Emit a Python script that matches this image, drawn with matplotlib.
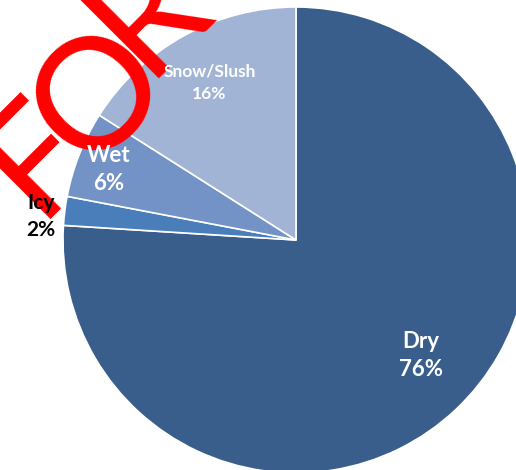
import numpy as np
import matplotlib
matplotlib.use('Agg')
import matplotlib.pyplot as plt

# road surface condition shares (clockwise from 12 o'clock)
conditions = ['Dry', 'Icy', 'Wet', 'Snow/Slush']
shares = [76, 2, 6, 16]
colors = ['#3A5E8C', '#4A7EBB', '#7393C6', '#A2B4D5']
label_colors = ['white', 'black', 'white', 'white']
label_sizes = [16, 15, 16, 12.5]
label_dist = [0.73, 1.10, 0.86, 0.77]
label_shift = [4, 2, 1, 0]   # degrees

W, H = 516, 470
fig = plt.figure(figsize=(W / 100, H / 100), dpi=100)
ax = fig.add_axes([0, 0, 1, 1])

cx, cy, r = 296, H - 240, 233
wedges, _ = ax.pie(shares, colors=colors, startangle=90, counterclock=False,
                   center=(cx, cy), radius=r,
                   wedgeprops=dict(edgecolor='white', linewidth=1.2))
ax.set_xlim(0, W)
ax.set_ylim(0, H)
ax.set_aspect('equal')
ax.axis('off')

for w, name, val, col, fs, d, s in zip(wedges, conditions, shares, label_colors,
                                        label_sizes, label_dist, label_shift):
    mid = np.deg2rad((w.theta1 + w.theta2) / 2 + s)
    x = cx + d * r * np.cos(mid)
    y = cy + d * r * np.sin(mid)
    ax.text(x, y, f'{name}\n{val}%', ha='center', va='center', color=col,
            fontsize=fs, fontweight='bold', family='Lato', linespacing=1.45, zorder=5)

# watermark, one letter at a time (pixels from top-left)
for ch, (px, py) in zip('FOR', [(37, 157), (100, 96), (148, 12)]):
    ax.text(px, H - py, ch, color='red', fontsize=112, family='Lato',
            rotation=45, rotation_mode='anchor', ha='center', va='center', zorder=4)

fig.savefig('out.png', dpi=100)
